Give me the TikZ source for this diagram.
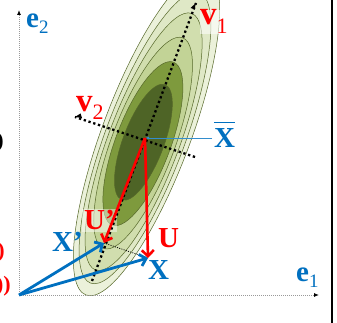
\documentclass[tikz,border=0pt]{standalone}
\usepackage{fontspec}
\setmainfont{Liberation Serif}
\usetikzlibrary{arrows.meta}
\definecolor{pblue}{HTML}{0070C0}
\definecolor{pred}{HTML}{FF0000}
\definecolor{gA}{HTML}{EBF1DA}
\definecolor{gB}{HTML}{DFE8C6}
\definecolor{gC}{HTML}{D1DEAE}
\definecolor{gD}{HTML}{C2D396}
\definecolor{gE}{HTML}{7E9A3D}
\definecolor{gF}{HTML}{4E6426}
\definecolor{gline}{HTML}{56682A}
\newcommand\mysub[2][-6pt]{\raisebox{#1}{\fontsize{19}{19}\selectfont\mdseries #2}}
\begin{document}
\begin{tikzpicture}[x=1pt,y=1pt,
  contour/.style={draw=gline,line width=0.5pt},
  axisline/.style={draw=gray!80,line width=0.9pt,dash pattern=on 1pt off 1pt,-{Latex[length=5pt,width=4pt,black]}},
  bigdots/.style={draw=black,line width=2.3pt,dash pattern=on 2.3pt off 2.7pt},
  redarrow/.style={draw=pred,line width=2.6pt,-{Straight Barb[length=6pt,width=12pt]}},
  bluearrow/.style={draw=pblue,line width=2.8pt,-{Straight Barb[length=6pt,width=12pt]}},
  lab/.style={inner sep=0pt,anchor=base west,font=\fontsize{29}{31}\selectfont\bfseries},
  cut/.style={inner sep=0pt,anchor=east,font=\fontsize{22}{24}\selectfont\bfseries}]
\useasboundingbox (0,0) rectangle (337,323);
\fill[white] (0,0) rectangle (337,323);
% contours
\path[contour,fill=gA,rotate around={69.4:(146.5,189)}] (146.5,189) ellipse (172pt and 44pt);
\path[contour,fill=gB,rotate around={69.4:(145,185)}] (145,185) ellipse (155pt and 39.5pt);
\path[contour,fill=gC,rotate around={69.4:(143.6,181.3)}] (143.6,181.3) ellipse (137pt and 35.5pt);
\path[contour,fill=gD,rotate around={69.4:(143.1,179.9)}] (143.1,179.9) ellipse (112.5pt and 31.5pt);
\path[contour,fill=gE,rotate around={69.4:(142.9,179.4)}] (142.9,179.4) ellipse (87pt and 27.5pt);
\path[contour,fill=gF,rotate around={69.4:(143.4,180.8)}] (143.4,180.8) ellipse (61.5pt and 20.5pt);
% coordinates
\coordinate (O) at (19,28);
\coordinate (M) at (145,185);
\coordinate (Xp) at (104,80);
\coordinate (X) at (148,65);
\coordinate (v1t) at (196,320);
\coordinate (v1b) at (92,42);
\coordinate (v2t) at (75,206);
\coordinate (v2b) at (195,166);
\coordinate (e2t) at (19,313);
\coordinate (e1t) at (319,28);
\coordinate (xbe) at (212,185);
% axes
\draw[axisline] (19,27) -- (e2t);
\draw[axisline] (O) -- (e1t);
% label patch behind U' (under the arrows)
\node[lab,text=pred,fill=white,fill opacity=0.45,text opacity=1,inner sep=2pt] (upl) at (82,93) {U'};
% principal axes
\draw[bigdots] (v1b) -- (v1t);
\draw[bigdots] (v2b) -- (v2t);
\fill[black] (v1t) -- ++(-5.5,-5) -- ++(4,-1.2) -- cycle;
\fill[black] (v2t) -- ++(7,-1) -- ++(-1.5,4.5) -- cycle;
% mean marker
\draw[draw=pblue!80,line width=0.8pt,-{Latex[length=4pt,width=3pt]}] (xbe) -- (M);
% projection line
\draw[black,line width=0.8pt,dash pattern=on 1pt off 1.3pt] (Xp) -- (X);
% vectors
\draw[bluearrow] (O) -- (Xp);
\draw[bluearrow] (O) -- (X);
\draw[redarrow] (M) -- (Xp);
\draw[redarrow] (M) -- (X);
% labels
\node[lab,text=pblue] (e2) at (26,295) {e\mysub[-6pt]{2}};
\node[lab,text=pblue] (e1) at (296,41) {e\mysub[-6pt]{1}};
\node[lab,text=pred,fill=white,fill opacity=0.55,text opacity=1,font=\fontsize{33}{34}\selectfont\bfseries] (v1) at (200,298) {v\mysub[-9pt]{\fontsize{22}{22}\selectfont 1}};
\node[lab,text=pred,font=\fontsize{33}{34}\selectfont\bfseries] (v2) at (76,211) {v\mysub[-8pt]{\fontsize{22}{22}\selectfont 2}};
\node[lab,text=pblue] (xb) at (214,175) {X};
\draw[pblue,line width=1.3pt] ([yshift=6.5pt]xb.north west) -- ([yshift=6.5pt]xb.north east);
\node[lab,text=pblue] (xpl) at (52,71) {X'};
\node[lab,text=pblue] (xl) at (148,43) {X};
\node[lab,text=pred] (ul) at (158,75) {U};
% cut-off text at left edge
\node[cut,text=black] (c1) at (4,181) {)};
\node[cut,text=pred] (c2) at (5,71) {)};
\node[cut,text=pred] (c3) at (11,37) {))};
% right frame line
\draw[black,line width=2.8pt] (332,0) -- (332,323);
\end{tikzpicture}
\end{document}
